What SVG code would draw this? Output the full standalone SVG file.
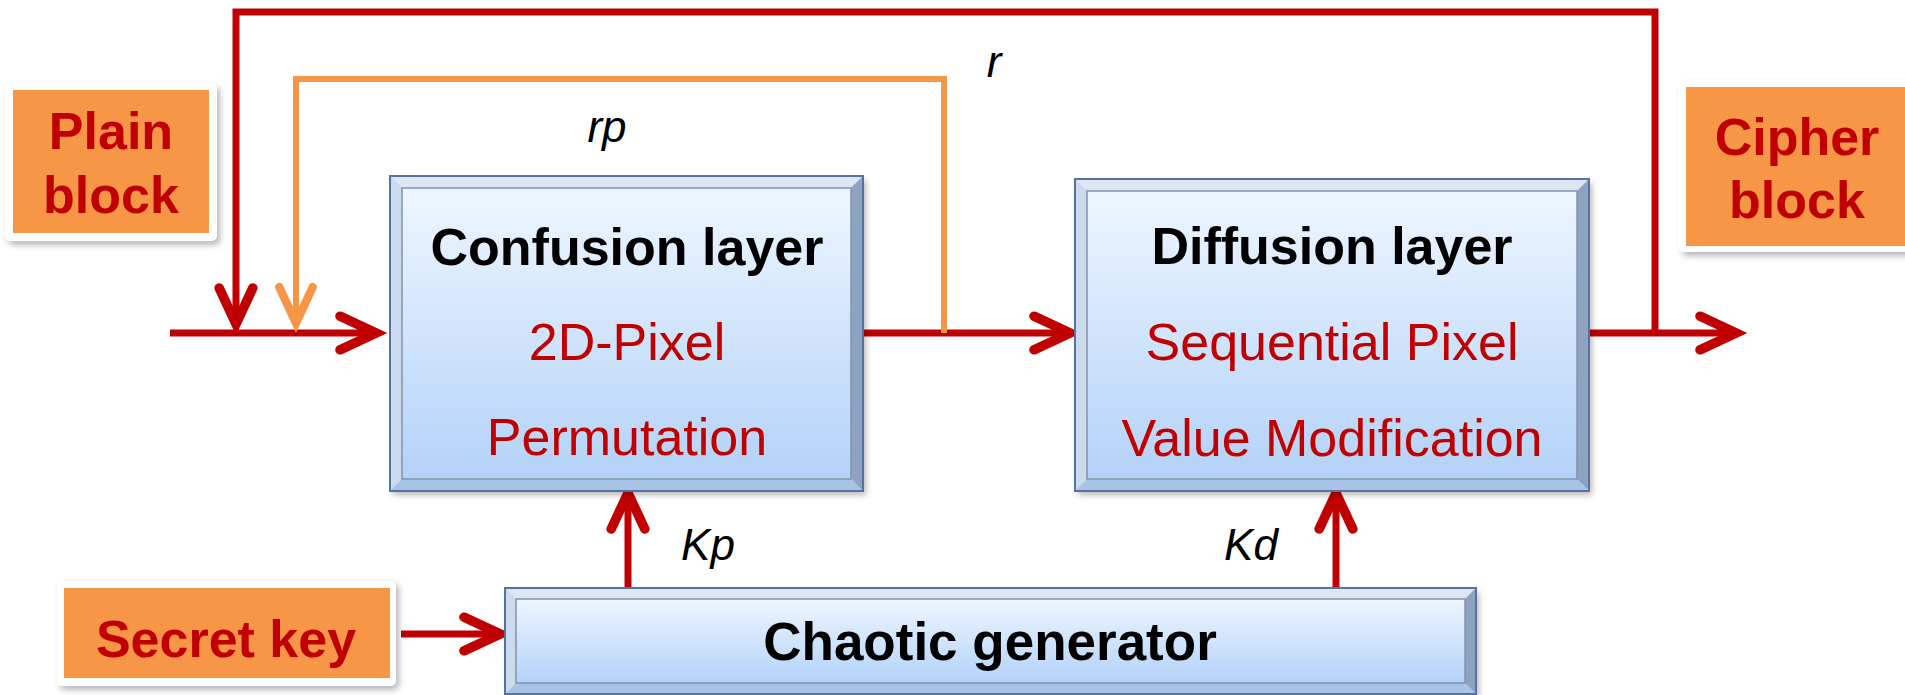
<svg xmlns="http://www.w3.org/2000/svg" width="1905" height="695" viewBox="0 0 1905 695">
<defs>
  <linearGradient id="face" x1="0" y1="0" x2="0" y2="1">
    <stop offset="0" stop-color="#EEF6FF"/>
    <stop offset="1" stop-color="#B3D2F8"/>
  </linearGradient>
  <filter id="sh" x="-10%" y="-10%" width="130%" height="130%">
    <feGaussianBlur stdDeviation="3"/>
  </filter>
  <marker id="ar" markerUnits="userSpaceOnUse" markerWidth="60" markerHeight="60" viewBox="-40 -20 50 40" refX="0" refY="0" orient="auto" overflow="visible">
    <path d="M-30,-14 L0,0 L-30,14" fill="none" stroke="#C00000" stroke-width="8" stroke-linecap="round" stroke-linejoin="miter"/>
  </marker>
  <marker id="ao" markerUnits="userSpaceOnUse" markerWidth="60" markerHeight="60" viewBox="-40 -20 50 40" refX="0" refY="0" orient="auto" overflow="visible">
    <path d="M-30,-14 L0,0 L-30,14" fill="none" stroke="#F79646" stroke-width="7" stroke-linecap="round" stroke-linejoin="miter"/>
  </marker>
</defs>
<style>
  .b { font-family: "Liberation Sans", Arial, sans-serif; font-weight: bold; text-anchor: middle; }
  .n { font-family: "Liberation Sans", Arial, sans-serif; text-anchor: middle; }
  .i { font-family: "Liberation Sans", Arial, sans-serif; font-style: italic; text-anchor: middle; fill: #000; font-size: 44px; }
  .red { fill: #C00000; }
  .blk { fill: #000; }
  .ln { fill: none; stroke: #C00000; stroke-width: 7; }
  .lo { fill: none; stroke: #F79646; stroke-width: 6; }
  .outer { fill: #C3D6EE; stroke: #56739F; stroke-width: 2; }
  .bt { fill: #DCE7F3; }
  .bl { fill: #CBDAEC; }
  .br { fill: #8EA3C2; }
  .bb { fill: #A8C3E6; }
  .inner { fill: url(#face); stroke: #8393AA; stroke-width: 1.5; }
  .shd { fill: #000; opacity: 0.28; filter: url(#sh); }
  .wbox { fill: #FFFFFF; }
  .obox { fill: #F79646; }
</style>

<g id="connectors">
  <path class="ln" d="M170,333 H376" marker-end="url(#ar)"/>
  <path class="ln" d="M863,333 H1070" marker-end="url(#ar)"/>
  <path class="ln" d="M1589,333 H1736" marker-end="url(#ar)"/>
  <path class="ln" d="M1655,333 V12 H236 V324" marker-end="url(#ar)"/>
  <path class="lo" d="M944,333 V79 H296 V323" marker-end="url(#ao)"/>
  <path class="ln" d="M401,634 H500" marker-end="url(#ar)"/>
  <path class="ln" d="M628,588 V493" marker-end="url(#ar)"/>
  <path class="ln" d="M1336,588 V493" marker-end="url(#ar)"/>
  <text class="i" x="607" y="142">rp</text>
  <text class="i" x="994" y="77">r</text>
  <text class="i" x="708" y="560">Kp</text>
  <text class="i" x="1251" y="560">Kd</text>
</g>

<g id="plain">
  <rect class="shd" x="8" y="87" width="212" height="158" rx="5"/>
  <rect class="wbox" x="5" y="83" width="212" height="158" rx="5"/>
  <rect class="obox" x="13" y="90" width="196" height="143"/>
  <text class="b red" x="111" y="149" font-size="52">Plain</text>
  <text class="b red" x="111" y="213" font-size="52">block</text>
</g>

<g id="cipher">
  <rect class="shd" x="1682" y="84" width="240" height="172" rx="5"/>
  <rect class="wbox" x="1678" y="80" width="240" height="172" rx="5"/>
  <rect class="obox" x="1686" y="87" width="230" height="159"/>
  <text class="b red" x="1797" y="155" font-size="52">Cipher</text>
  <text class="b red" x="1797" y="218" font-size="52">block</text>
</g>

<g id="secret">
  <rect class="shd" x="60" y="584" width="339" height="106" rx="5"/>
  <rect class="wbox" x="57" y="581" width="339" height="105" rx="5"/>
  <rect class="obox" x="64" y="588" width="326" height="90"/>
  <text class="b red" x="226" y="657" font-size="52">Secret key</text>
</g>

<g id="confusion">
  <rect class="shd" x="393" y="180" width="473" height="315"/>
  <rect class="outer" x="390" y="176" width="473" height="315"/>
  <polygon class="bt" points="391,177 862,177 851,188 402,188"/>
  <polygon class="bl" points="391,177 402,188 402,479 391,490"/>
  <polygon class="br" points="862,177 862,490 851,479 851,188"/>
  <polygon class="bb" points="391,490 402,479 851,479 862,490"/>
  <rect class="inner" x="402" y="188" width="449" height="291"/>
  <text class="b blk" x="627" y="265" font-size="52">Confusion layer</text>
  <text class="n red" x="627" y="360" font-size="52">2D-Pixel</text>
  <text class="n red" x="627" y="455" font-size="52">Permutation</text>
</g>

<g id="diffusion">
  <rect class="shd" x="1078" y="183" width="514" height="312"/>
  <rect class="outer" x="1075" y="179" width="514" height="312"/>
  <polygon class="bt" points="1076,180 1588,180 1577,191 1087,191"/>
  <polygon class="bl" points="1076,180 1087,191 1087,479 1076,490"/>
  <polygon class="br" points="1588,180 1588,490 1577,479 1577,191"/>
  <polygon class="bb" points="1076,490 1087,479 1577,479 1588,490"/>
  <rect class="inner" x="1087" y="191" width="490" height="288"/>
  <text class="b blk" x="1332" y="264" font-size="52">Diffusion layer</text>
  <text class="n red" x="1332" y="360" font-size="52">Sequential Pixel</text>
  <text class="n red" x="1332" y="456" font-size="52">Value Modification</text>
</g>

<g id="chaotic">
  <rect class="shd" x="508" y="592" width="971" height="106"/>
  <rect class="outer" x="505" y="588" width="971" height="106"/>
  <polygon class="bt" points="506,589 1475,589 1465,599 516,599"/>
  <polygon class="bl" points="506,589 516,599 516,683 506,693"/>
  <polygon class="br" points="1475,589 1475,693 1465,683 1465,599"/>
  <polygon class="bb" points="506,693 516,683 1465,683 1475,693"/>
  <rect class="inner" x="516" y="599" width="949" height="84"/>
  <text class="b blk" x="990" y="660" font-size="53">Chaotic generator</text>
</g>
</svg>
